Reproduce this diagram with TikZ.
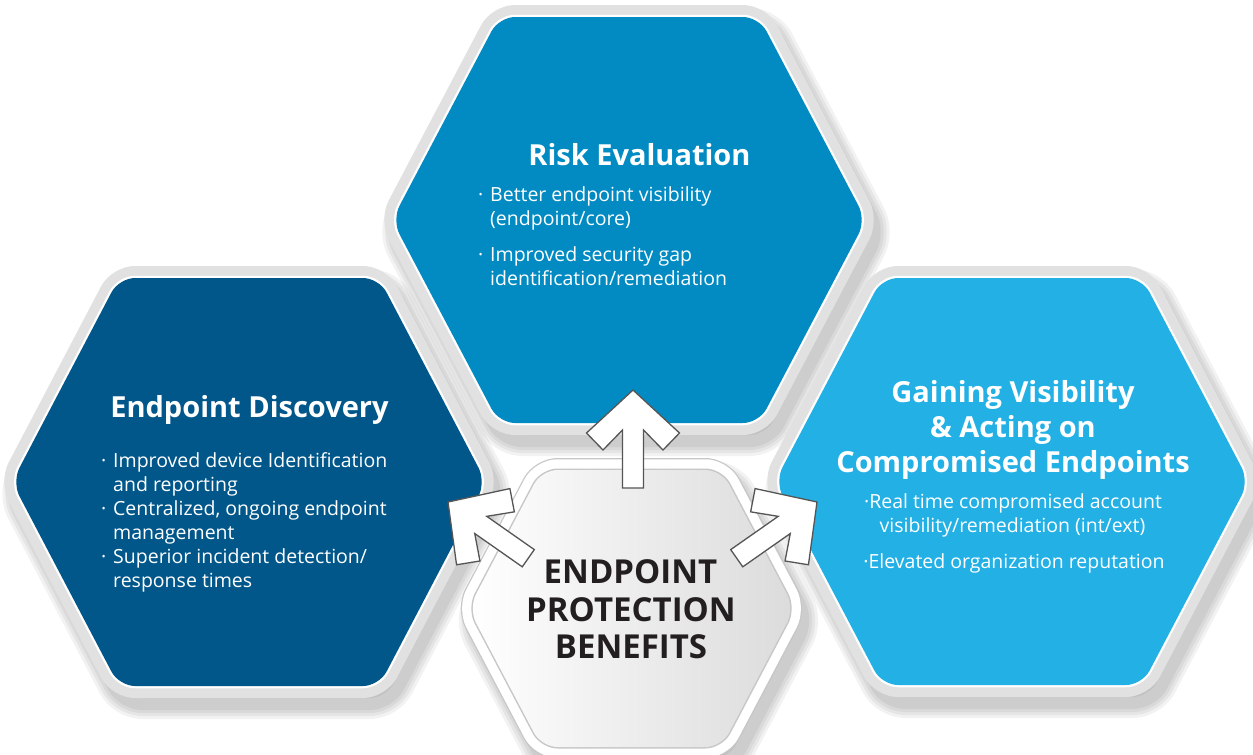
\documentclass[tikz,border=0pt]{standalone}
\usepackage{fontspec}
\setmainfont{Open Sans}
\definecolor{riskblue}{RGB}{2,139,194}
\definecolor{discblue}{RGB}{1,87,138}
\definecolor{gainblue}{RGB}{35,176,229}
\definecolor{framegray}{RGB}{225,225,225}
\definecolor{arrowline}{RGB}{85,85,85}
\definecolor{centertext}{RGB}{35,31,32}
\newcommand\hexpath[5]{(#1,#2-#5) -- (#1+#4,#2-#5) -- (#1+#3,#2) -- (#1+#4,#2+#5) -- (#1-#4,#2+#5) -- (#1-#3,#2) -- (#1-#4,#2-#5) -- cycle}
\newcommand\hexshadow[5]{%
  \foreach \w in {42,36,30,24}{%
    \draw[hexr, draw=black, opacity=0.05, line width=\w pt, shift={(7,12)}] \hexpath{#1}{#2}{#3}{#4}{#5};}
  \fill[hexr, black, opacity=0.05, shift={(7,12)}] \hexpath{#1}{#2}{#3}{#4}{#5};}
\newcommand\hexframed[6]{%
  \draw[frameline] \hexpath{#1}{#2}{#3}{#4}{#5};
  \draw[whiteline] \hexpath{#1}{#2}{#3}{#4}{#5};
  \fill[hexr, #6] \hexpath{#1}{#2}{#3}{#4}{#5};}
\newcommand\arrowshape{(0,0) -- (-43,46.5) -- (-60,30) -- (-40,10.5) -- (-98,10.5) -- (-98,-10.5) -- (-40,-10.5) -- (-60,-30) -- (-43,-46.5) -- cycle}
\begin{document}
\begin{tikzpicture}[x=1pt,y=-1pt,
  hexr/.style={rounded corners=16pt, line join=round},
  frameline/.style={hexr, draw=framegray, line width=24pt},
  whiteline/.style={hexr, draw=white, line width=4.5pt},
  blockarrow/.style={fill=white, draw=arrowline, line width=1.3pt, line join=miter},
  titletext/.style={text=white, font=\bfseries\fontsize{29}{35}\selectfont, anchor=base, inner sep=0pt},
  bullettext/.style={text=white, font=\fontsize{19.5}{24}\selectfont, anchor=base west, inner sep=0pt},
  bulletc/.style={text=white, font=\fontsize{19.5}{24}\selectfont, anchor=base, inner sep=0pt},
  centerlabel/.style={text=centertext, font=\bfseries\fontsize{33}{38}\selectfont, anchor=base, inner sep=0pt}
]
\useasboundingbox (0,0) rectangle (1253,755);
\fill[white] (0,0) rectangle (1253,755);

% shadows
\hexshadow{629}{220}{237}{130}{203}
\hexshadow{249}{482}{237}{130}{204}
\hexshadow{1012}{481.5}{237}{130}{203.5}
\hexshadow{631.5}{608.5}{163}{90}{138.5}

% outer hexagons
\hexframed{629}{220}{237}{130}{203}{riskblue}
\hexframed{249}{482}{237}{130}{204}{discblue}
\hexframed{1012}{481.5}{237}{130}{203.5}{gainblue}

% centre hexagon
\draw[hexr, draw=black!22, line width=24pt] \hexpath{631.5}{608.5}{163}{90}{138.5};
\draw[hexr, draw=white, line width=21.5pt] \hexpath{631.5}{608.5}{163}{90}{138.5};
\draw[hexr, draw=black!22, line width=3pt] \hexpath{631.5}{608.5}{163}{90}{138.5};
\shade[hexr, left color=white, right color=black!14] \hexpath{631.5}{608.5}{163}{90}{138.5};

% arrows
\draw[blockarrow, shift={(633,390)}, rotate=90] \arrowshape;
\draw[blockarrow, shift={(448,502)}, rotate=145] \arrowshape;
\draw[blockarrow, shift={(817,502)}, rotate=35] \arrowshape;

% Risk Evaluation
\node[titletext] (riskt) at (639.5,165) {Risk Evaluation};
\node[bullettext] (risk1) at (490,201) {\vtop{\hbox{\llap{·\hspace{7pt}}Better endpoint visibility}\hbox{(endpoint/core)}}};
\node[bullettext] (risk2) at (490,261) {\vtop{\hbox{\llap{·\hspace{7pt}}Improved security gap}\hbox{identification/remediation}}};

% Endpoint Discovery
\node[titletext] (disct) at (249.5,417) {Endpoint Discovery};
\node[bullettext] (disc1) at (113,467) {\vtop{\hbox{\llap{·\hspace{7pt}}Improved device Identification}\hbox{and reporting}}};
\node[bullettext] (disc2) at (113,515) {\vtop{\hbox{\llap{·\hspace{7pt}}Centralized, ongoing endpoint}\hbox{management}}};
\node[bullettext] (disc3) at (113,563) {\vtop{\hbox{\llap{·\hspace{7pt}}Superior incident detection/}\hbox{response times}}};

% Gaining Visibility
\node[titletext] (gaint1) at (1013,402) {Gaining Visibility};
\node[titletext] (gaint2) at (1013,437) {\& Acting on};
\node[titletext] (gaint3) at (1013,472) {Compromised Endpoints};
\node[bulletc] (gain1a) at (1013,508) {·Real time compromised account};
\node[bulletc] (gain1b) at (1012.5,532) {visibility/remediation (int/ext)};
\node[bulletc] (gain2) at (1014,568) {·Elevated organization reputation};

% centre label
\node[centerlabel] (c1) at (630.5,583) {ENDPOINT};
\node[centerlabel] (c2) at (631,621) {PROTECTION};
\node[centerlabel] (c3) at (631,658) {BENEFITS};
\end{tikzpicture}
\end{document}
